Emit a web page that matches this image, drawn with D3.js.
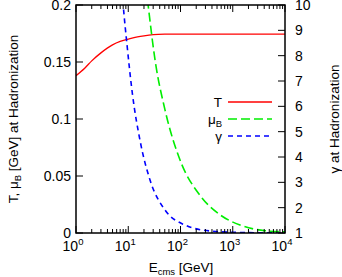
<!DOCTYPE html>
<html><head><meta charset="utf-8">
<script src="https://cdn.jsdelivr.net/npm/d3@7"></script>
<style>body{margin:0;background:#fff}text{font-family:"Liberation Sans",Arial,sans-serif;fill:#000}</style>
</head><body><svg id="c" width="342" height="277"></svg>
<script>
const energyT = [1, 1.5, 2, 3, 5, 7, 10, 15, 20, 30, 50, 100, 1000, 10000];
const valuesT = [0.138, 0.145, 0.151, 0.158, 0.165, 0.168, 0.170, 0.172, 0.173, 0.174, 0.1744, 0.1745, 0.1745, 0.1745];
const energyMuB = [18, 24, 32.5, 50.5, 98, 236, 570, 1376, 4140, 10000];
const valuesMuB = [0.25, 0.2, 0.152, 0.108, 0.064, 0.033, 0.016, 0.007, 0.002, 0.001];
const energyGamma = [7, 8, 9.5, 12, 17, 26, 50, 120, 370, 1400, 10000];
const valuesGamma = [11.6, 10, 8.4, 6.5, 4.6, 3.1, 1.92, 1.32, 1.08, 1.02, 1.0];
const xTicks = [1, 10, 100, 1000, 10000];
const xTickExp = ["0", "1", "2", "3", "4"];
const yLeftTicks = [0, 0.05, 0.1, 0.15, 0.2];
const yLeftLabels = ["0", "0.05", "0.1", "0.15", "0.2"];
const yRightTicks = [1, 2, 3, 4, 5, 6, 7, 8, 9, 10];
const legendNames = ["T", "μB", "γ"];

const L = 76, R = 285, T = 5, B = 233;
const svg = d3.select("#c");
const x = d3.scaleLog().domain([1, 1e4]).range([L, R]);
const yL = d3.scaleLinear().domain([0, 0.2]).range([B, T]);
const yR = d3.scaleLinear().domain([1, 10]).range([B, T]);

svg.append("defs").append("clipPath").attr("id", "clip")
  .append("rect").attr("x", L).attr("y", T).attr("width", R - L).attr("height", B - T);

const g = svg.append("g").attr("clip-path", "url(#clip)");
const lineT = d3.line().x((d, i) => x(energyT[i])).y(d => yL(d)).curve(d3.curveMonotoneX);
const lineM = d3.line().x((d, i) => x(energyMuB[i])).y(d => yL(d)).curve(d3.curveMonotoneX);
const lineG = d3.line().x((d, i) => x(energyGamma[i])).y(d => yR(d)).curve(d3.curveMonotoneX);
g.append("path").attr("d", lineT(valuesT)).attr("fill", "none").attr("stroke", "#ff0000").attr("stroke-width", 1.3);
g.append("path").attr("d", lineM(valuesMuB)).attr("fill", "none").attr("stroke", "#00ee00").attr("stroke-width", 1.6).attr("stroke-dasharray", "9,4");
g.append("path").attr("d", lineG(valuesGamma)).attr("fill", "none").attr("stroke", "#0000ff").attr("stroke-width", 1.6).attr("stroke-dasharray", "5,4");

// ticks
const ax = svg.append("g").attr("stroke", "#000").attr("stroke-width", 1);
const minor = [];
for (let d = 1; d < 1e4; d *= 10) for (let k = 2; k <= 9; k++) minor.push(d * k);
minor.forEach(v => {
  ax.append("line").attr("x1", x(v)).attr("x2", x(v)).attr("y1", B).attr("y2", B - 4);
  ax.append("line").attr("x1", x(v)).attr("x2", x(v)).attr("y1", T).attr("y2", T + 4);
});
xTicks.forEach(v => {
  ax.append("line").attr("x1", x(v)).attr("x2", x(v)).attr("y1", B).attr("y2", B - 7);
  ax.append("line").attr("x1", x(v)).attr("x2", x(v)).attr("y1", T).attr("y2", T + 7);
});
yLeftTicks.forEach(v => ax.append("line").attr("x1", L).attr("x2", L + 7).attr("y1", yL(v)).attr("y2", yL(v)));
yRightTicks.forEach(v => ax.append("line").attr("x1", R).attr("x2", R - 7).attr("y1", yR(v)).attr("y2", yR(v)));
svg.append("rect").attr("x", L).attr("y", T).attr("width", R - L).attr("height", B - T)
  .attr("fill", "none").attr("stroke", "#000").attr("stroke-width", 1.5);

// tick labels
xTicks.forEach((v, i) => {
  const t = svg.append("text").attr("x", x(v) - 3).attr("y", 251).attr("text-anchor", "middle").attr("font-size", 14);
  t.append("tspan").text("10");
  t.append("tspan").attr("dy", -6).attr("font-size", 9.5).text(xTickExp[i]);
});
yLeftTicks.forEach((v, i) => svg.append("text").attr("x", 71).attr("y", yL(v) + 5).attr("text-anchor", "end").attr("font-size", 14).text(yLeftLabels[i]));
yRightTicks.forEach(v => svg.append("text").attr("x", 295).attr("y", yR(v) + 5).attr("text-anchor", "start").attr("font-size", 14).text(v));

// axis titles
const xt = svg.append("text").attr("x", 181).attr("y", 272).attr("text-anchor", "middle").attr("font-size", 13.5);
xt.append("tspan").text("E");
xt.append("tspan").attr("dy", 3).attr("font-size", 9.5).text("cms");
xt.append("tspan").attr("dy", -3).text(" [GeV]");

const lt = svg.append("text").attr("transform", "translate(18,119) rotate(-90)").attr("text-anchor", "middle").attr("font-size", 13.5);
lt.append("tspan").text("T, μ");
lt.append("tspan").attr("dy", 3).attr("font-size", 9.5).text("B");
lt.append("tspan").attr("dy", -3).text(" [GeV] at Hadronization");

svg.append("text").attr("transform", "translate(339,119) rotate(-90)").attr("text-anchor", "middle").attr("font-size", 13.5).text("γ at Hadronization");

// legend
const legY = [102, 119, 136];
const legColors = ["#ff0000", "#00ee00", "#0000ff"];
const legDash = [null, "9,4", "5,4"];
const legW = [1.3, 1.6, 1.6];
legendNames.forEach((n, i) => {
  const t = svg.append("text").attr("x", 222).attr("y", legY[i] + 5).attr("text-anchor", "end").attr("font-size", 13.5);
  if (n === "μB") { t.append("tspan").text("μ"); t.append("tspan").attr("dy", 3).attr("font-size", 9.5).text("B"); }
  else t.text(n);
  svg.append("line").attr("x1", 228).attr("x2", 272).attr("y1", legY[i]).attr("y2", legY[i])
    .attr("stroke", legColors[i]).attr("stroke-width", legW[i]).attr("stroke-dasharray", legDash[i]);
});
</script></body></html>
